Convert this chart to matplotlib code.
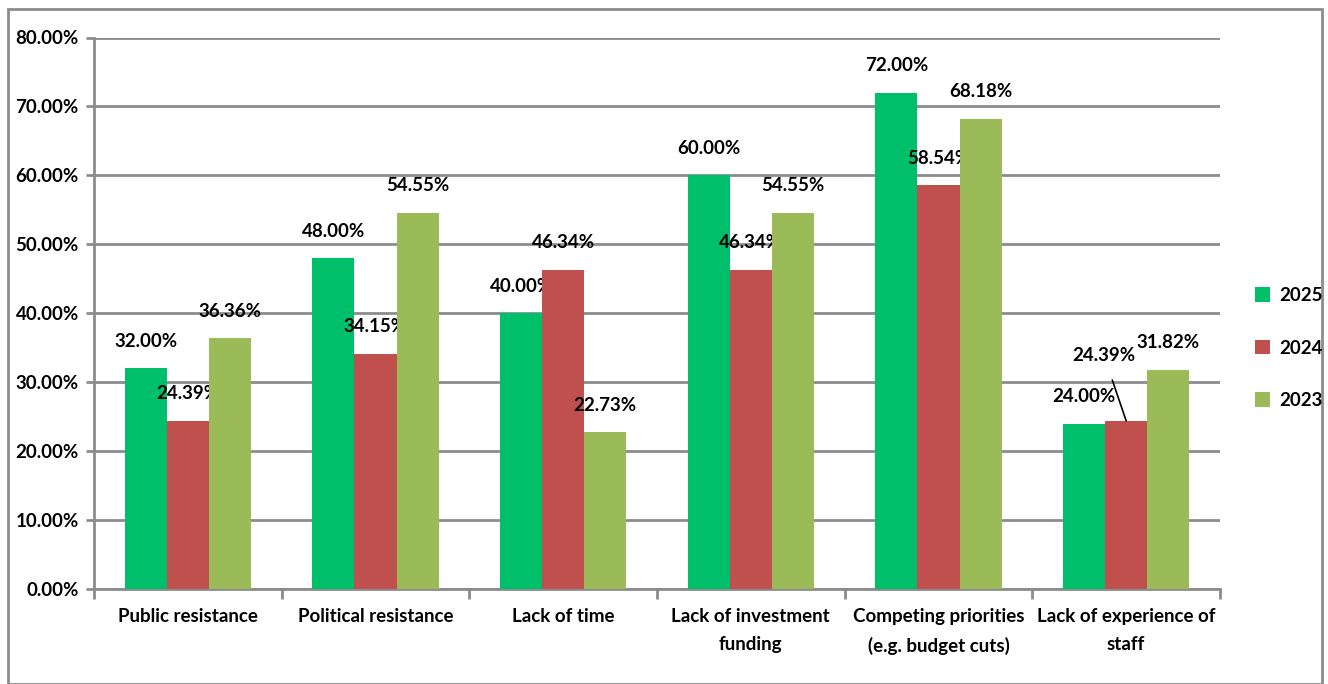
import matplotlib
matplotlib.use("Agg")
import matplotlib.pyplot as plt
import numpy as np
from matplotlib.patches import Rectangle

categories = ["Public resistance", "Political resistance", "Lack of time",
              "Lack of investment\nfunding", "Competing priorities\n(e.g. budget cuts)",
              "Lack of experience of\nstaff"]
series_names = ["2025", "2024", "2023"]
v2025 = [32.00, 48.00, 40.00, 60.00, 72.00, 24.00]
v2024 = [24.39, 34.15, 46.34, 46.34, 58.54, 24.39]
v2023 = [36.36, 54.55, 22.73, 54.55, 68.18, 31.82]
yticks = [0, 10, 20, 30, 40, 50, 60, 70, 80]
colors = ["#00BF6B", "#C0504D", "#9BBB59"]

plt.rcParams['font.family'] = ['Lato', 'DejaVu Sans']
plt.rcParams['font.weight'] = 'bold'
FS = 13.5

fig = plt.figure(figsize=(13.28, 6.84), dpi=100)
ax = fig.add_axes([94/1328, 1-589/684, (1220-94)/1328, (589-37.5)/684])

# outer border
fig.patches.append(Rectangle((8/1328, 0.5/684), (1322-8)/1328, (675-0.5)/684,
                             transform=fig.transFigure, fill=False,
                             edgecolor="#8C8C8C", lw=2))

x = np.arange(len(categories))
w = 0.224
data = [v2025, v2024, v2023]
for i, (vals, name, c) in enumerate(zip(data, series_names, colors)):
    xs = x + (i - 1) * w
    ax.bar(xs, vals, width=w, color=c, label=name, zorder=3)
    for j, (xx, v) in enumerate(zip(xs, vals)):
        if i == 1 and j == 5:
            ax.annotate(f"{v:.2f}%", xy=(xx, v), xytext=(-16, 47), textcoords="offset points",
                        ha="center", va="center", fontsize=FS, fontweight="bold",
                        arrowprops=dict(arrowstyle="-", color="black", lw=1.2,
                                        shrinkA=10, shrinkB=0))
        else:
            ax.annotate(f"{v:.2f}%", xy=(xx, v), xytext=(0, 19.5), textcoords="offset points",
                        ha="center", va="center", fontsize=FS, fontweight="bold")

ax.set_xlim(-0.5, len(categories) - 0.5)
ax.set_ylim(0, 80)
ax.set_yticks(yticks)
ax.set_yticklabels([f"{t:.2f}%" for t in yticks], fontsize=FS, fontweight="bold")
ax.set_xticks(x)
ax.set_xticklabels(categories, fontsize=FS, fontweight="bold", linespacing=1.75)
ax.set_xticks(np.arange(len(categories) + 1) - 0.5, minor=True)
ax.tick_params(axis="x", which="major", length=0, pad=14)
ax.tick_params(axis="x", which="minor", length=7, width=2, color="#8C8C8C")
ax.tick_params(axis="y", length=6, width=2, color="#8C8C8C", pad=5)

ax.yaxis.grid(True, color="#8C8C8C", lw=2, zorder=0)
ax.set_axisbelow(True)
for s in ["top", "right"]:
    ax.spines[s].set_visible(False)
for s in ["left", "bottom"]:
    ax.spines[s].set_color("#8C8C8C")
    ax.spines[s].set_linewidth(2)

leg = fig.legend(loc="center left", bbox_to_anchor=(1238/1328, 1-348/684), frameon=False,
                 fontsize=FS, handlelength=0.8, handleheight=0.8, labelspacing=1.9,
                 handletextpad=0.5)
for t in leg.get_texts():
    t.set_fontweight("bold")

fig.savefig("out.png", dpi=100)
